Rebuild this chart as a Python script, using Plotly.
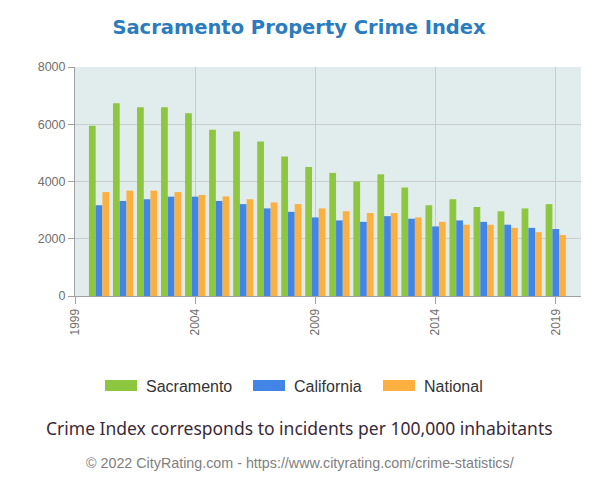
import plotly.graph_objects as go

years = list(range(2000, 2020))
sacramento = [5950, 6730, 6590, 6590, 6380, 5810, 5750, 5400, 4870, 4510,
              4300, 4000, 4250, 3790, 3170, 3380, 3110, 2960, 3060, 3210]
california = [3170, 3320, 3380, 3470, 3470, 3320, 3210, 3060, 2940, 2745,
              2640, 2590, 2790, 2700, 2430, 2640, 2590, 2490, 2380, 2340]
national = [3630, 3680, 3680, 3630, 3530, 3480, 3380, 3270, 3210, 3060,
            2960, 2900, 2900, 2745, 2590, 2490, 2490, 2380, 2230, 2130]
series_names = ["Sacramento", "California", "National"]
series_colors = ["#8dc63f", "#4285e6", "#fbb040"]
x_ticks = [1999, 2004, 2009, 2014, 2019]
y_ticks = [0, 2000, 4000, 6000, 8000]

# page is rendered with an 8px body margin
W, H = 592, 480
L, R, T, B = 67, 19, 59, 192
PW, PH = W - L - R, H - T - B


def px_x(page_x):
    return (page_x - 8 - L) / PW


def px_y(page_y):
    return (H - B - (page_y - 8)) / PH


fig = go.Figure()
for name, vals, col in zip(series_names, [sacramento, california, national], series_colors):
    fig.add_bar(x=years, y=vals, name=name, marker_color=col, marker_line_width=0,
                showlegend=False)

axis_grey = "#a0a0a0"

# custom legend (wide swatches like the original)
legend_swatch_left = [105, 253, 383]
shapes = []
annotations = []
for name, col, sx in zip(series_names, series_colors, legend_swatch_left):
    shapes.append(dict(type="rect", xref="paper", yref="paper",
                       x0=px_x(sx), x1=px_x(sx + 32), y0=px_y(391), y1=px_y(380),
                       fillcolor=col, line_width=0))
    annotations.append(dict(text=name, xref="paper", yref="paper",
                            x=px_x(sx + 39), y=px_y(386), xanchor="left", yanchor="middle",
                            showarrow=False,
                            font=dict(family="Liberation Sans", size=16, color="#333333")))

annotations += [
    dict(text="Crime Index corresponds to incidents per 100,000 inhabitants",
         xref="paper", yref="paper", x=px_x(299), y=px_y(428), xanchor="center", yanchor="middle",
         showarrow=False, font=dict(family="Noto Sans", size=17.5, color="#3a2a3a")),
    dict(text="© 2022 CityRating.com - https://www.cityrating.com/crime-statistics/",
         xref="paper", yref="paper", x=px_x(300), y=px_y(463), xanchor="center", yanchor="middle",
         showarrow=False, font=dict(family="Liberation Sans", size=14.3, color="#808080")),
]

fig.update_layout(
    width=W, height=H,
    margin=dict(l=L, r=R, t=T, b=B, pad=0),
    paper_bgcolor="white",
    plot_bgcolor="#e1ecec",
    barmode="group",
    bargap=0.16,
    bargroupgap=0,
    title=dict(text="<b>Sacramento Property Crime Index</b>", x=(299 - 8) / W, xanchor="center",
               y=1 - (27 - 8) / H, yanchor="middle",
               font=dict(family="DejaVu Sans", size=19.5, color="#2b7bbf")),
    font=dict(family="Liberation Sans", color="#666666"),
    showlegend=False,
    xaxis=dict(range=[1999, 2020.05], tickvals=x_ticks, ticktext=[str(v) for v in x_ticks],
               tickangle=-90, showgrid=True, gridcolor="#c8cccc", gridwidth=1,
               showline=True, linecolor=axis_grey, linewidth=1,
               ticks="outside", ticklen=7, tickcolor=axis_grey,
               tickfont=dict(family="Liberation Sans", size=12, color="#707070"),
               zeroline=False),
    yaxis=dict(range=[0, 8000], tickvals=y_ticks,
               showgrid=True, gridcolor="#c8cccc", gridwidth=1,
               showline=True, linecolor=axis_grey, linewidth=1,
               ticks="outside", ticklen=6, tickcolor=axis_grey,
               tickfont=dict(family="Liberation Sans", size=12.5, color="#707070"),
               zeroline=False),
    shapes=shapes,
    annotations=annotations,
)

fig.write_html("out.html")
